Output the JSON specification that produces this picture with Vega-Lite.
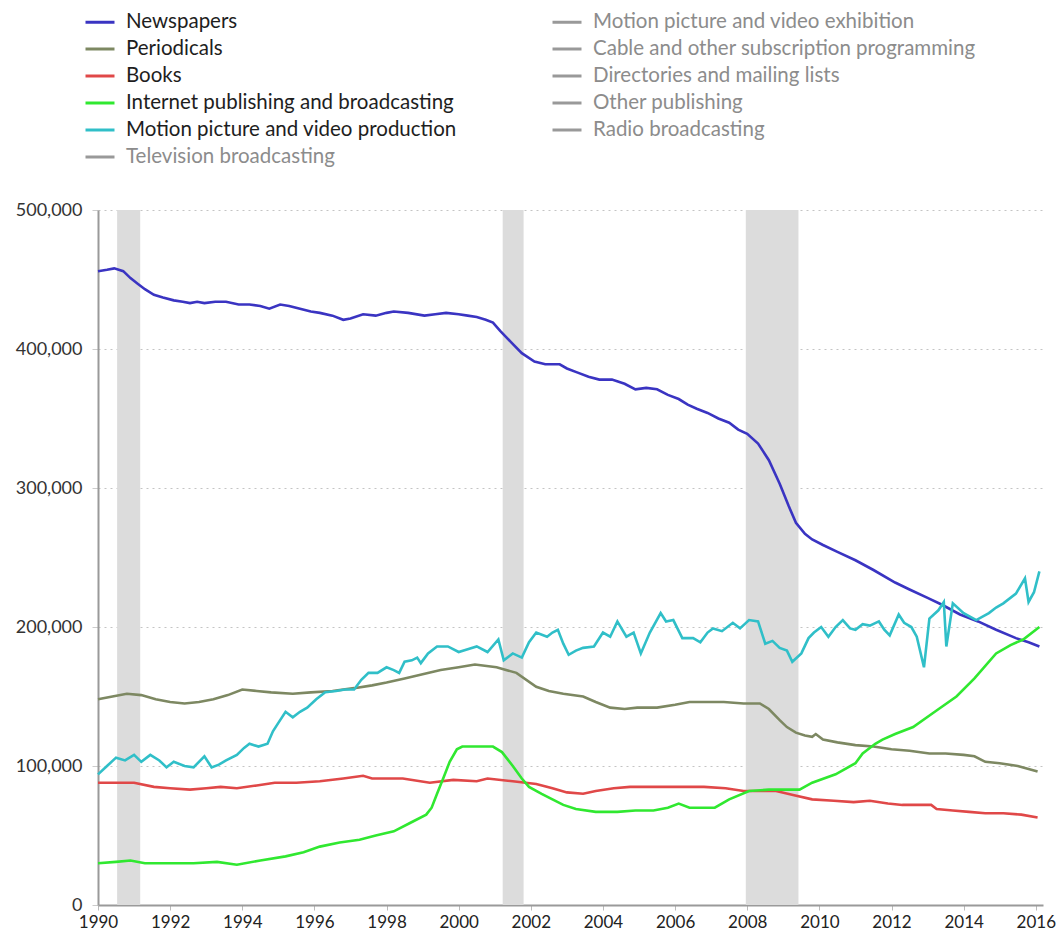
{
  "$schema": "https://vega.github.io/schema/vega-lite/v6.json",
  "width": 945,
  "height": 695,
  "autosize": {"type": "none"},
  "padding": {"left": 98, "top": 210, "right": 20, "bottom": 27},
  "background": "white",
  "config": {
    "font": "Lato",
    "view": {"stroke": null}
  },
  "datasets": {
    "recessions": [
      {"start": 1990.53, "end": 1991.17},
      {"start": 2001.22, "end": 2001.8},
      {"start": 2007.96, "end": 2009.42}
    ],
    "jobs": [
      {"series": "Newspapers", "year": 1990.0, "jobs": 456000},
      {"series": "Newspapers", "year": 1990.25, "jobs": 457000},
      {"series": "Newspapers", "year": 1990.45, "jobs": 458000},
      {"series": "Newspapers", "year": 1990.7, "jobs": 456000},
      {"series": "Newspapers", "year": 1990.9, "jobs": 451000},
      {"series": "Newspapers", "year": 1991.1, "jobs": 447000},
      {"series": "Newspapers", "year": 1991.3, "jobs": 443000},
      {"series": "Newspapers", "year": 1991.55, "jobs": 439000},
      {"series": "Newspapers", "year": 1991.8, "jobs": 437000},
      {"series": "Newspapers", "year": 1992.1, "jobs": 435000},
      {"series": "Newspapers", "year": 1992.35, "jobs": 434000},
      {"series": "Newspapers", "year": 1992.55, "jobs": 433000},
      {"series": "Newspapers", "year": 1992.75, "jobs": 434000},
      {"series": "Newspapers", "year": 1992.95, "jobs": 433000},
      {"series": "Newspapers", "year": 1993.25, "jobs": 434000},
      {"series": "Newspapers", "year": 1993.55, "jobs": 434000},
      {"series": "Newspapers", "year": 1993.9, "jobs": 432000},
      {"series": "Newspapers", "year": 1994.2, "jobs": 432000},
      {"series": "Newspapers", "year": 1994.5, "jobs": 431000},
      {"series": "Newspapers", "year": 1994.75, "jobs": 429000},
      {"series": "Newspapers", "year": 1995.05, "jobs": 432000},
      {"series": "Newspapers", "year": 1995.3, "jobs": 431000},
      {"series": "Newspapers", "year": 1995.6, "jobs": 429000},
      {"series": "Newspapers", "year": 1995.9, "jobs": 427000},
      {"series": "Newspapers", "year": 1996.15, "jobs": 426000},
      {"series": "Newspapers", "year": 1996.5, "jobs": 424000},
      {"series": "Newspapers", "year": 1996.8, "jobs": 421000},
      {"series": "Newspapers", "year": 1997.0, "jobs": 422000},
      {"series": "Newspapers", "year": 1997.35, "jobs": 425000},
      {"series": "Newspapers", "year": 1997.7, "jobs": 424000},
      {"series": "Newspapers", "year": 1998.0, "jobs": 426000},
      {"series": "Newspapers", "year": 1998.2, "jobs": 427000},
      {"series": "Newspapers", "year": 1998.6, "jobs": 426000},
      {"series": "Newspapers", "year": 1999.05, "jobs": 424000},
      {"series": "Newspapers", "year": 1999.35, "jobs": 425000},
      {"series": "Newspapers", "year": 1999.65, "jobs": 426000},
      {"series": "Newspapers", "year": 2000.0, "jobs": 425000},
      {"series": "Newspapers", "year": 2000.25, "jobs": 424000},
      {"series": "Newspapers", "year": 2000.5, "jobs": 423000},
      {"series": "Newspapers", "year": 2000.75, "jobs": 421000},
      {"series": "Newspapers", "year": 2000.95, "jobs": 419000},
      {"series": "Newspapers", "year": 2001.15, "jobs": 413000},
      {"series": "Newspapers", "year": 2001.45, "jobs": 405000},
      {"series": "Newspapers", "year": 2001.75, "jobs": 397000},
      {"series": "Newspapers", "year": 2002.1, "jobs": 391000},
      {"series": "Newspapers", "year": 2002.4, "jobs": 389000},
      {"series": "Newspapers", "year": 2002.8, "jobs": 389000},
      {"series": "Newspapers", "year": 2003.0, "jobs": 386000},
      {"series": "Newspapers", "year": 2003.3, "jobs": 383000},
      {"series": "Newspapers", "year": 2003.6, "jobs": 380000},
      {"series": "Newspapers", "year": 2003.9, "jobs": 378000},
      {"series": "Newspapers", "year": 2004.25, "jobs": 378000},
      {"series": "Newspapers", "year": 2004.6, "jobs": 375000},
      {"series": "Newspapers", "year": 2004.9, "jobs": 371000},
      {"series": "Newspapers", "year": 2005.2, "jobs": 372000},
      {"series": "Newspapers", "year": 2005.5, "jobs": 371000},
      {"series": "Newspapers", "year": 2005.8, "jobs": 367000},
      {"series": "Newspapers", "year": 2006.1, "jobs": 364000},
      {"series": "Newspapers", "year": 2006.35, "jobs": 360000},
      {"series": "Newspapers", "year": 2006.6, "jobs": 357000},
      {"series": "Newspapers", "year": 2006.9, "jobs": 354000},
      {"series": "Newspapers", "year": 2007.2, "jobs": 350000},
      {"series": "Newspapers", "year": 2007.5, "jobs": 347000},
      {"series": "Newspapers", "year": 2007.75, "jobs": 342000},
      {"series": "Newspapers", "year": 2008.0, "jobs": 339000},
      {"series": "Newspapers", "year": 2008.3, "jobs": 332000},
      {"series": "Newspapers", "year": 2008.6, "jobs": 320000},
      {"series": "Newspapers", "year": 2008.9, "jobs": 303000},
      {"series": "Newspapers", "year": 2009.15, "jobs": 287000},
      {"series": "Newspapers", "year": 2009.35, "jobs": 275000},
      {"series": "Newspapers", "year": 2009.6, "jobs": 267000},
      {"series": "Newspapers", "year": 2009.8, "jobs": 263000},
      {"series": "Newspapers", "year": 2010.1, "jobs": 259000},
      {"series": "Newspapers", "year": 2010.5, "jobs": 254000},
      {"series": "Newspapers", "year": 2011.0, "jobs": 248000},
      {"series": "Newspapers", "year": 2011.5, "jobs": 241000},
      {"series": "Newspapers", "year": 2012.1, "jobs": 232000},
      {"series": "Newspapers", "year": 2012.5, "jobs": 227000},
      {"series": "Newspapers", "year": 2013.0, "jobs": 221000},
      {"series": "Newspapers", "year": 2013.4, "jobs": 216000},
      {"series": "Newspapers", "year": 2013.9, "jobs": 209000},
      {"series": "Newspapers", "year": 2014.4, "jobs": 204000},
      {"series": "Newspapers", "year": 2014.9, "jobs": 198000},
      {"series": "Newspapers", "year": 2015.45, "jobs": 192000},
      {"series": "Newspapers", "year": 2015.8, "jobs": 189000},
      {"series": "Newspapers", "year": 2016.1, "jobs": 186000},

      {"series": "Periodicals", "year": 1990.0, "jobs": 148000},
      {"series": "Periodicals", "year": 1990.4, "jobs": 150000},
      {"series": "Periodicals", "year": 1990.8, "jobs": 152000},
      {"series": "Periodicals", "year": 1991.2, "jobs": 151000},
      {"series": "Periodicals", "year": 1991.6, "jobs": 148000},
      {"series": "Periodicals", "year": 1992.0, "jobs": 146000},
      {"series": "Periodicals", "year": 1992.4, "jobs": 145000},
      {"series": "Periodicals", "year": 1992.8, "jobs": 146000},
      {"series": "Periodicals", "year": 1993.2, "jobs": 148000},
      {"series": "Periodicals", "year": 1993.6, "jobs": 151000},
      {"series": "Periodicals", "year": 1994.0, "jobs": 155000},
      {"series": "Periodicals", "year": 1994.4, "jobs": 154000},
      {"series": "Periodicals", "year": 1994.8, "jobs": 153000},
      {"series": "Periodicals", "year": 1995.4, "jobs": 152000},
      {"series": "Periodicals", "year": 1995.9, "jobs": 153000},
      {"series": "Periodicals", "year": 1996.5, "jobs": 154000},
      {"series": "Periodicals", "year": 1997.1, "jobs": 156000},
      {"series": "Periodicals", "year": 1997.6, "jobs": 158000},
      {"series": "Periodicals", "year": 1998.0, "jobs": 160000},
      {"series": "Periodicals", "year": 1998.5, "jobs": 163000},
      {"series": "Periodicals", "year": 1999.0, "jobs": 166000},
      {"series": "Periodicals", "year": 1999.5, "jobs": 169000},
      {"series": "Periodicals", "year": 2000.0, "jobs": 171000},
      {"series": "Periodicals", "year": 2000.45, "jobs": 173000},
      {"series": "Periodicals", "year": 2001.05, "jobs": 171000},
      {"series": "Periodicals", "year": 2001.6, "jobs": 167000},
      {"series": "Periodicals", "year": 2002.15, "jobs": 157000},
      {"series": "Periodicals", "year": 2002.5, "jobs": 154000},
      {"series": "Periodicals", "year": 2002.9, "jobs": 152000},
      {"series": "Periodicals", "year": 2003.45, "jobs": 150000},
      {"series": "Periodicals", "year": 2003.8, "jobs": 146000},
      {"series": "Periodicals", "year": 2004.2, "jobs": 142000},
      {"series": "Periodicals", "year": 2004.6, "jobs": 141000},
      {"series": "Periodicals", "year": 2004.95, "jobs": 142000},
      {"series": "Periodicals", "year": 2005.5, "jobs": 142000},
      {"series": "Periodicals", "year": 2006.0, "jobs": 144000},
      {"series": "Periodicals", "year": 2006.4, "jobs": 146000},
      {"series": "Periodicals", "year": 2006.8, "jobs": 146000},
      {"series": "Periodicals", "year": 2007.35, "jobs": 146000},
      {"series": "Periodicals", "year": 2007.9, "jobs": 145000},
      {"series": "Periodicals", "year": 2008.35, "jobs": 145000},
      {"series": "Periodicals", "year": 2008.6, "jobs": 141000},
      {"series": "Periodicals", "year": 2008.9, "jobs": 133000},
      {"series": "Periodicals", "year": 2009.1, "jobs": 128000},
      {"series": "Periodicals", "year": 2009.35, "jobs": 124000},
      {"series": "Periodicals", "year": 2009.6, "jobs": 122000},
      {"series": "Periodicals", "year": 2009.8, "jobs": 121000},
      {"series": "Periodicals", "year": 2009.9, "jobs": 123000},
      {"series": "Periodicals", "year": 2010.1, "jobs": 119000},
      {"series": "Periodicals", "year": 2010.5, "jobs": 117000},
      {"series": "Periodicals", "year": 2011.0, "jobs": 115000},
      {"series": "Periodicals", "year": 2011.5, "jobs": 114000},
      {"series": "Periodicals", "year": 2012.0, "jobs": 112000},
      {"series": "Periodicals", "year": 2012.5, "jobs": 111000},
      {"series": "Periodicals", "year": 2013.05, "jobs": 109000},
      {"series": "Periodicals", "year": 2013.5, "jobs": 109000},
      {"series": "Periodicals", "year": 2014.0, "jobs": 108000},
      {"series": "Periodicals", "year": 2014.3, "jobs": 107000},
      {"series": "Periodicals", "year": 2014.6, "jobs": 103000},
      {"series": "Periodicals", "year": 2015.0, "jobs": 102000},
      {"series": "Periodicals", "year": 2015.5, "jobs": 100000},
      {"series": "Periodicals", "year": 2016.05, "jobs": 96000},

      {"series": "Books", "year": 1990.0, "jobs": 88000},
      {"series": "Books", "year": 1991.0, "jobs": 88000},
      {"series": "Books", "year": 1991.55, "jobs": 85000},
      {"series": "Books", "year": 1992.0, "jobs": 84000},
      {"series": "Books", "year": 1992.55, "jobs": 83000},
      {"series": "Books", "year": 1993.0, "jobs": 84000},
      {"series": "Books", "year": 1993.4, "jobs": 85000},
      {"series": "Books", "year": 1993.85, "jobs": 84000},
      {"series": "Books", "year": 1994.4, "jobs": 86000},
      {"series": "Books", "year": 1994.9, "jobs": 88000},
      {"series": "Books", "year": 1995.5, "jobs": 88000},
      {"series": "Books", "year": 1996.15, "jobs": 89000},
      {"series": "Books", "year": 1996.8, "jobs": 91000},
      {"series": "Books", "year": 1997.35, "jobs": 93000},
      {"series": "Books", "year": 1997.6, "jobs": 91000},
      {"series": "Books", "year": 1998.45, "jobs": 91000},
      {"series": "Books", "year": 1999.2, "jobs": 88000},
      {"series": "Books", "year": 1999.85, "jobs": 90000},
      {"series": "Books", "year": 2000.5, "jobs": 89000},
      {"series": "Books", "year": 2000.8, "jobs": 91000},
      {"series": "Books", "year": 2001.5, "jobs": 89000},
      {"series": "Books", "year": 2002.15, "jobs": 87000},
      {"series": "Books", "year": 2002.6, "jobs": 84000},
      {"series": "Books", "year": 2003.0, "jobs": 81000},
      {"series": "Books", "year": 2003.45, "jobs": 80000},
      {"series": "Books", "year": 2003.8, "jobs": 82000},
      {"series": "Books", "year": 2004.3, "jobs": 84000},
      {"series": "Books", "year": 2004.75, "jobs": 85000},
      {"series": "Books", "year": 2005.4, "jobs": 85000},
      {"series": "Books", "year": 2006.1, "jobs": 85000},
      {"series": "Books", "year": 2006.8, "jobs": 85000},
      {"series": "Books", "year": 2007.4, "jobs": 84000},
      {"series": "Books", "year": 2007.9, "jobs": 82000},
      {"series": "Books", "year": 2008.8, "jobs": 82000},
      {"series": "Books", "year": 2009.3, "jobs": 79000},
      {"series": "Books", "year": 2009.8, "jobs": 76000},
      {"series": "Books", "year": 2010.4, "jobs": 75000},
      {"series": "Books", "year": 2010.95, "jobs": 74000},
      {"series": "Books", "year": 2011.4, "jobs": 75000},
      {"series": "Books", "year": 2011.9, "jobs": 73000},
      {"series": "Books", "year": 2012.3, "jobs": 72000},
      {"series": "Books", "year": 2012.7, "jobs": 72000},
      {"series": "Books", "year": 2013.1, "jobs": 72000},
      {"series": "Books", "year": 2013.25, "jobs": 69000},
      {"series": "Books", "year": 2013.7, "jobs": 68000},
      {"series": "Books", "year": 2014.15, "jobs": 67000},
      {"series": "Books", "year": 2014.6, "jobs": 66000},
      {"series": "Books", "year": 2015.1, "jobs": 66000},
      {"series": "Books", "year": 2015.6, "jobs": 65000},
      {"series": "Books", "year": 2016.05, "jobs": 63000},

      {"series": "Internet publishing and broadcasting", "year": 1990.0, "jobs": 30000},
      {"series": "Internet publishing and broadcasting", "year": 1990.5, "jobs": 31000},
      {"series": "Internet publishing and broadcasting", "year": 1990.9, "jobs": 32000},
      {"series": "Internet publishing and broadcasting", "year": 1991.3, "jobs": 30000},
      {"series": "Internet publishing and broadcasting", "year": 1992.0, "jobs": 30000},
      {"series": "Internet publishing and broadcasting", "year": 1992.65, "jobs": 30000},
      {"series": "Internet publishing and broadcasting", "year": 1993.3, "jobs": 31000},
      {"series": "Internet publishing and broadcasting", "year": 1993.85, "jobs": 29000},
      {"series": "Internet publishing and broadcasting", "year": 1994.5, "jobs": 32000},
      {"series": "Internet publishing and broadcasting", "year": 1995.2, "jobs": 35000},
      {"series": "Internet publishing and broadcasting", "year": 1995.7, "jobs": 38000},
      {"series": "Internet publishing and broadcasting", "year": 1996.15, "jobs": 42000},
      {"series": "Internet publishing and broadcasting", "year": 1996.7, "jobs": 45000},
      {"series": "Internet publishing and broadcasting", "year": 1997.25, "jobs": 47000},
      {"series": "Internet publishing and broadcasting", "year": 1997.7, "jobs": 50000},
      {"series": "Internet publishing and broadcasting", "year": 1998.2, "jobs": 53000},
      {"series": "Internet publishing and broadcasting", "year": 1998.65, "jobs": 59000},
      {"series": "Internet publishing and broadcasting", "year": 1999.1, "jobs": 65000},
      {"series": "Internet publishing and broadcasting", "year": 1999.25, "jobs": 70000},
      {"series": "Internet publishing and broadcasting", "year": 1999.4, "jobs": 80000},
      {"series": "Internet publishing and broadcasting", "year": 1999.6, "jobs": 93000},
      {"series": "Internet publishing and broadcasting", "year": 1999.75, "jobs": 103000},
      {"series": "Internet publishing and broadcasting", "year": 1999.95, "jobs": 112000},
      {"series": "Internet publishing and broadcasting", "year": 2000.1, "jobs": 114000},
      {"series": "Internet publishing and broadcasting", "year": 2000.95, "jobs": 114000},
      {"series": "Internet publishing and broadcasting", "year": 2001.2, "jobs": 110000},
      {"series": "Internet publishing and broadcasting", "year": 2001.5, "jobs": 100000},
      {"series": "Internet publishing and broadcasting", "year": 2001.75, "jobs": 91000},
      {"series": "Internet publishing and broadcasting", "year": 2001.95, "jobs": 85000},
      {"series": "Internet publishing and broadcasting", "year": 2002.3, "jobs": 80000},
      {"series": "Internet publishing and broadcasting", "year": 2002.6, "jobs": 76000},
      {"series": "Internet publishing and broadcasting", "year": 2002.9, "jobs": 72000},
      {"series": "Internet publishing and broadcasting", "year": 2003.25, "jobs": 69000},
      {"series": "Internet publishing and broadcasting", "year": 2003.8, "jobs": 67000},
      {"series": "Internet publishing and broadcasting", "year": 2004.4, "jobs": 67000},
      {"series": "Internet publishing and broadcasting", "year": 2004.9, "jobs": 68000},
      {"series": "Internet publishing and broadcasting", "year": 2005.4, "jobs": 68000},
      {"series": "Internet publishing and broadcasting", "year": 2005.8, "jobs": 70000},
      {"series": "Internet publishing and broadcasting", "year": 2006.1, "jobs": 73000},
      {"series": "Internet publishing and broadcasting", "year": 2006.4, "jobs": 70000},
      {"series": "Internet publishing and broadcasting", "year": 2007.1, "jobs": 70000},
      {"series": "Internet publishing and broadcasting", "year": 2007.5, "jobs": 76000},
      {"series": "Internet publishing and broadcasting", "year": 2008.05, "jobs": 82000},
      {"series": "Internet publishing and broadcasting", "year": 2008.6, "jobs": 83000},
      {"series": "Internet publishing and broadcasting", "year": 2009.0, "jobs": 83000},
      {"series": "Internet publishing and broadcasting", "year": 2009.45, "jobs": 83000},
      {"series": "Internet publishing and broadcasting", "year": 2009.8, "jobs": 88000},
      {"series": "Internet publishing and broadcasting", "year": 2010.45, "jobs": 94000},
      {"series": "Internet publishing and broadcasting", "year": 2011.0, "jobs": 102000},
      {"series": "Internet publishing and broadcasting", "year": 2011.2, "jobs": 109000},
      {"series": "Internet publishing and broadcasting", "year": 2011.55, "jobs": 116000},
      {"series": "Internet publishing and broadcasting", "year": 2011.75, "jobs": 119000},
      {"series": "Internet publishing and broadcasting", "year": 2012.1, "jobs": 123000},
      {"series": "Internet publishing and broadcasting", "year": 2012.6, "jobs": 128000},
      {"series": "Internet publishing and broadcasting", "year": 2013.2, "jobs": 139000},
      {"series": "Internet publishing and broadcasting", "year": 2013.8, "jobs": 150000},
      {"series": "Internet publishing and broadcasting", "year": 2014.3, "jobs": 163000},
      {"series": "Internet publishing and broadcasting", "year": 2014.9, "jobs": 181000},
      {"series": "Internet publishing and broadcasting", "year": 2015.3, "jobs": 187000},
      {"series": "Internet publishing and broadcasting", "year": 2015.65, "jobs": 191000},
      {"series": "Internet publishing and broadcasting", "year": 2016.1, "jobs": 200000},

      {"series": "Motion picture and video production", "year": 1990.0, "jobs": 94000},
      {"series": "Motion picture and video production", "year": 1990.25, "jobs": 100000},
      {"series": "Motion picture and video production", "year": 1990.5, "jobs": 106000},
      {"series": "Motion picture and video production", "year": 1990.75, "jobs": 104000},
      {"series": "Motion picture and video production", "year": 1991.0, "jobs": 108000},
      {"series": "Motion picture and video production", "year": 1991.2, "jobs": 103000},
      {"series": "Motion picture and video production", "year": 1991.45, "jobs": 108000},
      {"series": "Motion picture and video production", "year": 1991.7, "jobs": 104000},
      {"series": "Motion picture and video production", "year": 1991.9, "jobs": 99000},
      {"series": "Motion picture and video production", "year": 1992.1, "jobs": 103000},
      {"series": "Motion picture and video production", "year": 1992.4, "jobs": 100000},
      {"series": "Motion picture and video production", "year": 1992.65, "jobs": 99000},
      {"series": "Motion picture and video production", "year": 1992.95, "jobs": 107000},
      {"series": "Motion picture and video production", "year": 1993.15, "jobs": 99000},
      {"series": "Motion picture and video production", "year": 1993.35, "jobs": 101000},
      {"series": "Motion picture and video production", "year": 1993.55, "jobs": 104000},
      {"series": "Motion picture and video production", "year": 1993.85, "jobs": 108000},
      {"series": "Motion picture and video production", "year": 1994.05, "jobs": 113000},
      {"series": "Motion picture and video production", "year": 1994.2, "jobs": 116000},
      {"series": "Motion picture and video production", "year": 1994.45, "jobs": 114000},
      {"series": "Motion picture and video production", "year": 1994.7, "jobs": 116000},
      {"series": "Motion picture and video production", "year": 1994.85, "jobs": 125000},
      {"series": "Motion picture and video production", "year": 1995.0, "jobs": 131000},
      {"series": "Motion picture and video production", "year": 1995.2, "jobs": 139000},
      {"series": "Motion picture and video production", "year": 1995.4, "jobs": 135000},
      {"series": "Motion picture and video production", "year": 1995.6, "jobs": 139000},
      {"series": "Motion picture and video production", "year": 1995.8, "jobs": 142000},
      {"series": "Motion picture and video production", "year": 1996.05, "jobs": 148000},
      {"series": "Motion picture and video production", "year": 1996.3, "jobs": 153000},
      {"series": "Motion picture and video production", "year": 1996.6, "jobs": 154000},
      {"series": "Motion picture and video production", "year": 1996.85, "jobs": 155000},
      {"series": "Motion picture and video production", "year": 1997.1, "jobs": 155000},
      {"series": "Motion picture and video production", "year": 1997.3, "jobs": 162000},
      {"series": "Motion picture and video production", "year": 1997.5, "jobs": 167000},
      {"series": "Motion picture and video production", "year": 1997.75, "jobs": 167000},
      {"series": "Motion picture and video production", "year": 1998.0, "jobs": 171000},
      {"series": "Motion picture and video production", "year": 1998.2, "jobs": 169000},
      {"series": "Motion picture and video production", "year": 1998.35, "jobs": 167000},
      {"series": "Motion picture and video production", "year": 1998.5, "jobs": 175000},
      {"series": "Motion picture and video production", "year": 1998.7, "jobs": 176000},
      {"series": "Motion picture and video production", "year": 1998.85, "jobs": 178000},
      {"series": "Motion picture and video production", "year": 1998.95, "jobs": 174000},
      {"series": "Motion picture and video production", "year": 1999.15, "jobs": 181000},
      {"series": "Motion picture and video production", "year": 1999.4, "jobs": 186000},
      {"series": "Motion picture and video production", "year": 1999.7, "jobs": 186000},
      {"series": "Motion picture and video production", "year": 2000.0, "jobs": 182000},
      {"series": "Motion picture and video production", "year": 2000.25, "jobs": 184000},
      {"series": "Motion picture and video production", "year": 2000.5, "jobs": 186000},
      {"series": "Motion picture and video production", "year": 2000.8, "jobs": 182000},
      {"series": "Motion picture and video production", "year": 2001.1, "jobs": 191000},
      {"series": "Motion picture and video production", "year": 2001.25, "jobs": 176000},
      {"series": "Motion picture and video production", "year": 2001.5, "jobs": 181000},
      {"series": "Motion picture and video production", "year": 2001.75, "jobs": 178000},
      {"series": "Motion picture and video production", "year": 2001.95, "jobs": 189000},
      {"series": "Motion picture and video production", "year": 2002.15, "jobs": 196000},
      {"series": "Motion picture and video production", "year": 2002.45, "jobs": 193000},
      {"series": "Motion picture and video production", "year": 2002.6, "jobs": 196000},
      {"series": "Motion picture and video production", "year": 2002.75, "jobs": 198000},
      {"series": "Motion picture and video production", "year": 2002.9, "jobs": 188000},
      {"series": "Motion picture and video production", "year": 2003.05, "jobs": 180000},
      {"series": "Motion picture and video production", "year": 2003.25, "jobs": 183000},
      {"series": "Motion picture and video production", "year": 2003.45, "jobs": 185000},
      {"series": "Motion picture and video production", "year": 2003.75, "jobs": 186000},
      {"series": "Motion picture and video production", "year": 2004.0, "jobs": 196000},
      {"series": "Motion picture and video production", "year": 2004.2, "jobs": 193000},
      {"series": "Motion picture and video production", "year": 2004.4, "jobs": 204000},
      {"series": "Motion picture and video production", "year": 2004.65, "jobs": 193000},
      {"series": "Motion picture and video production", "year": 2004.85, "jobs": 196000},
      {"series": "Motion picture and video production", "year": 2005.05, "jobs": 181000},
      {"series": "Motion picture and video production", "year": 2005.3, "jobs": 196000},
      {"series": "Motion picture and video production", "year": 2005.6, "jobs": 210000},
      {"series": "Motion picture and video production", "year": 2005.75, "jobs": 204000},
      {"series": "Motion picture and video production", "year": 2005.95, "jobs": 205000},
      {"series": "Motion picture and video production", "year": 2006.2, "jobs": 192000},
      {"series": "Motion picture and video production", "year": 2006.5, "jobs": 192000},
      {"series": "Motion picture and video production", "year": 2006.7, "jobs": 189000},
      {"series": "Motion picture and video production", "year": 2006.9, "jobs": 196000},
      {"series": "Motion picture and video production", "year": 2007.05, "jobs": 199000},
      {"series": "Motion picture and video production", "year": 2007.3, "jobs": 197000},
      {"series": "Motion picture and video production", "year": 2007.6, "jobs": 203000},
      {"series": "Motion picture and video production", "year": 2007.8, "jobs": 199000},
      {"series": "Motion picture and video production", "year": 2008.05, "jobs": 205000},
      {"series": "Motion picture and video production", "year": 2008.3, "jobs": 204000},
      {"series": "Motion picture and video production", "year": 2008.5, "jobs": 188000},
      {"series": "Motion picture and video production", "year": 2008.7, "jobs": 190000},
      {"series": "Motion picture and video production", "year": 2008.9, "jobs": 185000},
      {"series": "Motion picture and video production", "year": 2009.1, "jobs": 183000},
      {"series": "Motion picture and video production", "year": 2009.25, "jobs": 175000},
      {"series": "Motion picture and video production", "year": 2009.5, "jobs": 181000},
      {"series": "Motion picture and video production", "year": 2009.7, "jobs": 192000},
      {"series": "Motion picture and video production", "year": 2009.85, "jobs": 196000},
      {"series": "Motion picture and video production", "year": 2010.05, "jobs": 200000},
      {"series": "Motion picture and video production", "year": 2010.25, "jobs": 193000},
      {"series": "Motion picture and video production", "year": 2010.45, "jobs": 200000},
      {"series": "Motion picture and video production", "year": 2010.65, "jobs": 205000},
      {"series": "Motion picture and video production", "year": 2010.85, "jobs": 199000},
      {"series": "Motion picture and video production", "year": 2011.0, "jobs": 198000},
      {"series": "Motion picture and video production", "year": 2011.2, "jobs": 202000},
      {"series": "Motion picture and video production", "year": 2011.4, "jobs": 201000},
      {"series": "Motion picture and video production", "year": 2011.65, "jobs": 204000},
      {"series": "Motion picture and video production", "year": 2011.8, "jobs": 198000},
      {"series": "Motion picture and video production", "year": 2011.95, "jobs": 194000},
      {"series": "Motion picture and video production", "year": 2012.2, "jobs": 209000},
      {"series": "Motion picture and video production", "year": 2012.35, "jobs": 203000},
      {"series": "Motion picture and video production", "year": 2012.55, "jobs": 200000},
      {"series": "Motion picture and video production", "year": 2012.7, "jobs": 193000},
      {"series": "Motion picture and video production", "year": 2012.9, "jobs": 171000},
      {"series": "Motion picture and video production", "year": 2013.05, "jobs": 206000},
      {"series": "Motion picture and video production", "year": 2013.3, "jobs": 212000},
      {"series": "Motion picture and video production", "year": 2013.45, "jobs": 218000},
      {"series": "Motion picture and video production", "year": 2013.52, "jobs": 186000},
      {"series": "Motion picture and video production", "year": 2013.7, "jobs": 217000},
      {"series": "Motion picture and video production", "year": 2014.0, "jobs": 210000},
      {"series": "Motion picture and video production", "year": 2014.35, "jobs": 205000},
      {"series": "Motion picture and video production", "year": 2014.7, "jobs": 210000},
      {"series": "Motion picture and video production", "year": 2014.9, "jobs": 214000},
      {"series": "Motion picture and video production", "year": 2015.1, "jobs": 217000},
      {"series": "Motion picture and video production", "year": 2015.45, "jobs": 224000},
      {"series": "Motion picture and video production", "year": 2015.7, "jobs": 235000},
      {"series": "Motion picture and video production", "year": 2015.8, "jobs": 218000},
      {"series": "Motion picture and video production", "year": 2015.95, "jobs": 225000},
      {"series": "Motion picture and video production", "year": 2016.1, "jobs": 240000}
    ]
  },
  "layer": [
    {
      "data": {"name": "recessions"},
      "mark": {"type": "rect", "color": "#dcdcdc"},
      "encoding": {
        "x": {"field": "start", "type": "quantitative", "scale": {"domain": [1990, 2016.2], "nice": false, "zero": false}},
        "x2": {"field": "end"}
      }
    },
    {
      "data": {"name": "jobs"},
      "mark": {"type": "line", "strokeWidth": 2.6},
      "encoding": {
        "x": {
          "field": "year",
          "type": "quantitative",
          "scale": {"domain": [1990, 2016.2], "nice": false, "zero": false},
          "axis": {
            "title": null,
            "values": [1990, 1992, 1994, 1996, 1998, 2000, 2002, 2004, 2006, 2008, 2010, 2012, 2014, 2016],
            "format": "d",
            "grid": false,
            "labelFlush": false,
            "labelOverlap": false,
            "domainColor": "#9a9a9a",
            "domainWidth": 2,
            "tickColor": "#bbbbbb",
            "tickSize": 5,
            "labelFontSize": 17,
            "labelColor": "#222222",
            "labelPadding": 4
          }
        },
        "y": {
          "field": "jobs",
          "type": "quantitative",
          "scale": {"domain": [0, 500000], "nice": false},
          "axis": {
            "title": null,
            "values": [0, 100000, 200000, 300000, 400000, 500000],
            "format": ",d",
            "grid": true,
            "gridColor": "#c4c4c4",
            "gridDash": [2, 4],
            "gridWidth": 1,
            "domainColor": "#9a9a9a",
            "domainWidth": 2,
            "tickColor": "#cccccc",
            "tickSize": 6,
            "labelFontSize": 18,
            "labelColor": "#333333",
            "labelPadding": 10
          }
        },
        "color": {
          "field": "series",
          "type": "nominal",
          "scale": {
            "domain": [
              "Newspapers",
              "Periodicals",
              "Books",
              "Internet publishing and broadcasting",
              "Motion picture and video production",
              "Television broadcasting",
              "Motion picture and video exhibition",
              "Cable and other subscription programming",
              "Directories and mailing lists",
              "Other publishing",
              "Radio broadcasting"
            ],
            "range": [
              "#3a34c2",
              "#7d8862",
              "#e04848",
              "#30e830",
              "#30bfc8",
              "#999999",
              "#999999",
              "#999999",
              "#999999",
              "#999999",
              "#999999"
            ]
          },
          "legend": {
            "title": null,
            "orient": "none",
            "legendX": -14,
            "legendY": -204,
            "columns": 2,
            "columnPadding": 89,
            "rowPadding": -0.6,
            "symbolType": "stroke",
            "symbolSize": 841,
            "symbolStrokeWidth": 3,
            "labelFontSize": 20.5,
            "labelOffset": 10,
            "labelLimit": 600,
            "encode": {
              "labels": {
                "update": {
                  "fill": {"signal": "indexof(['Newspapers','Periodicals','Books','Internet publishing and broadcasting','Motion picture and video production'], datum.value) >= 0 ? '#1e1e1e' : '#8c8c8c'"}
                }
              }
            }
          }
        }
      }
    }
  ]
}
